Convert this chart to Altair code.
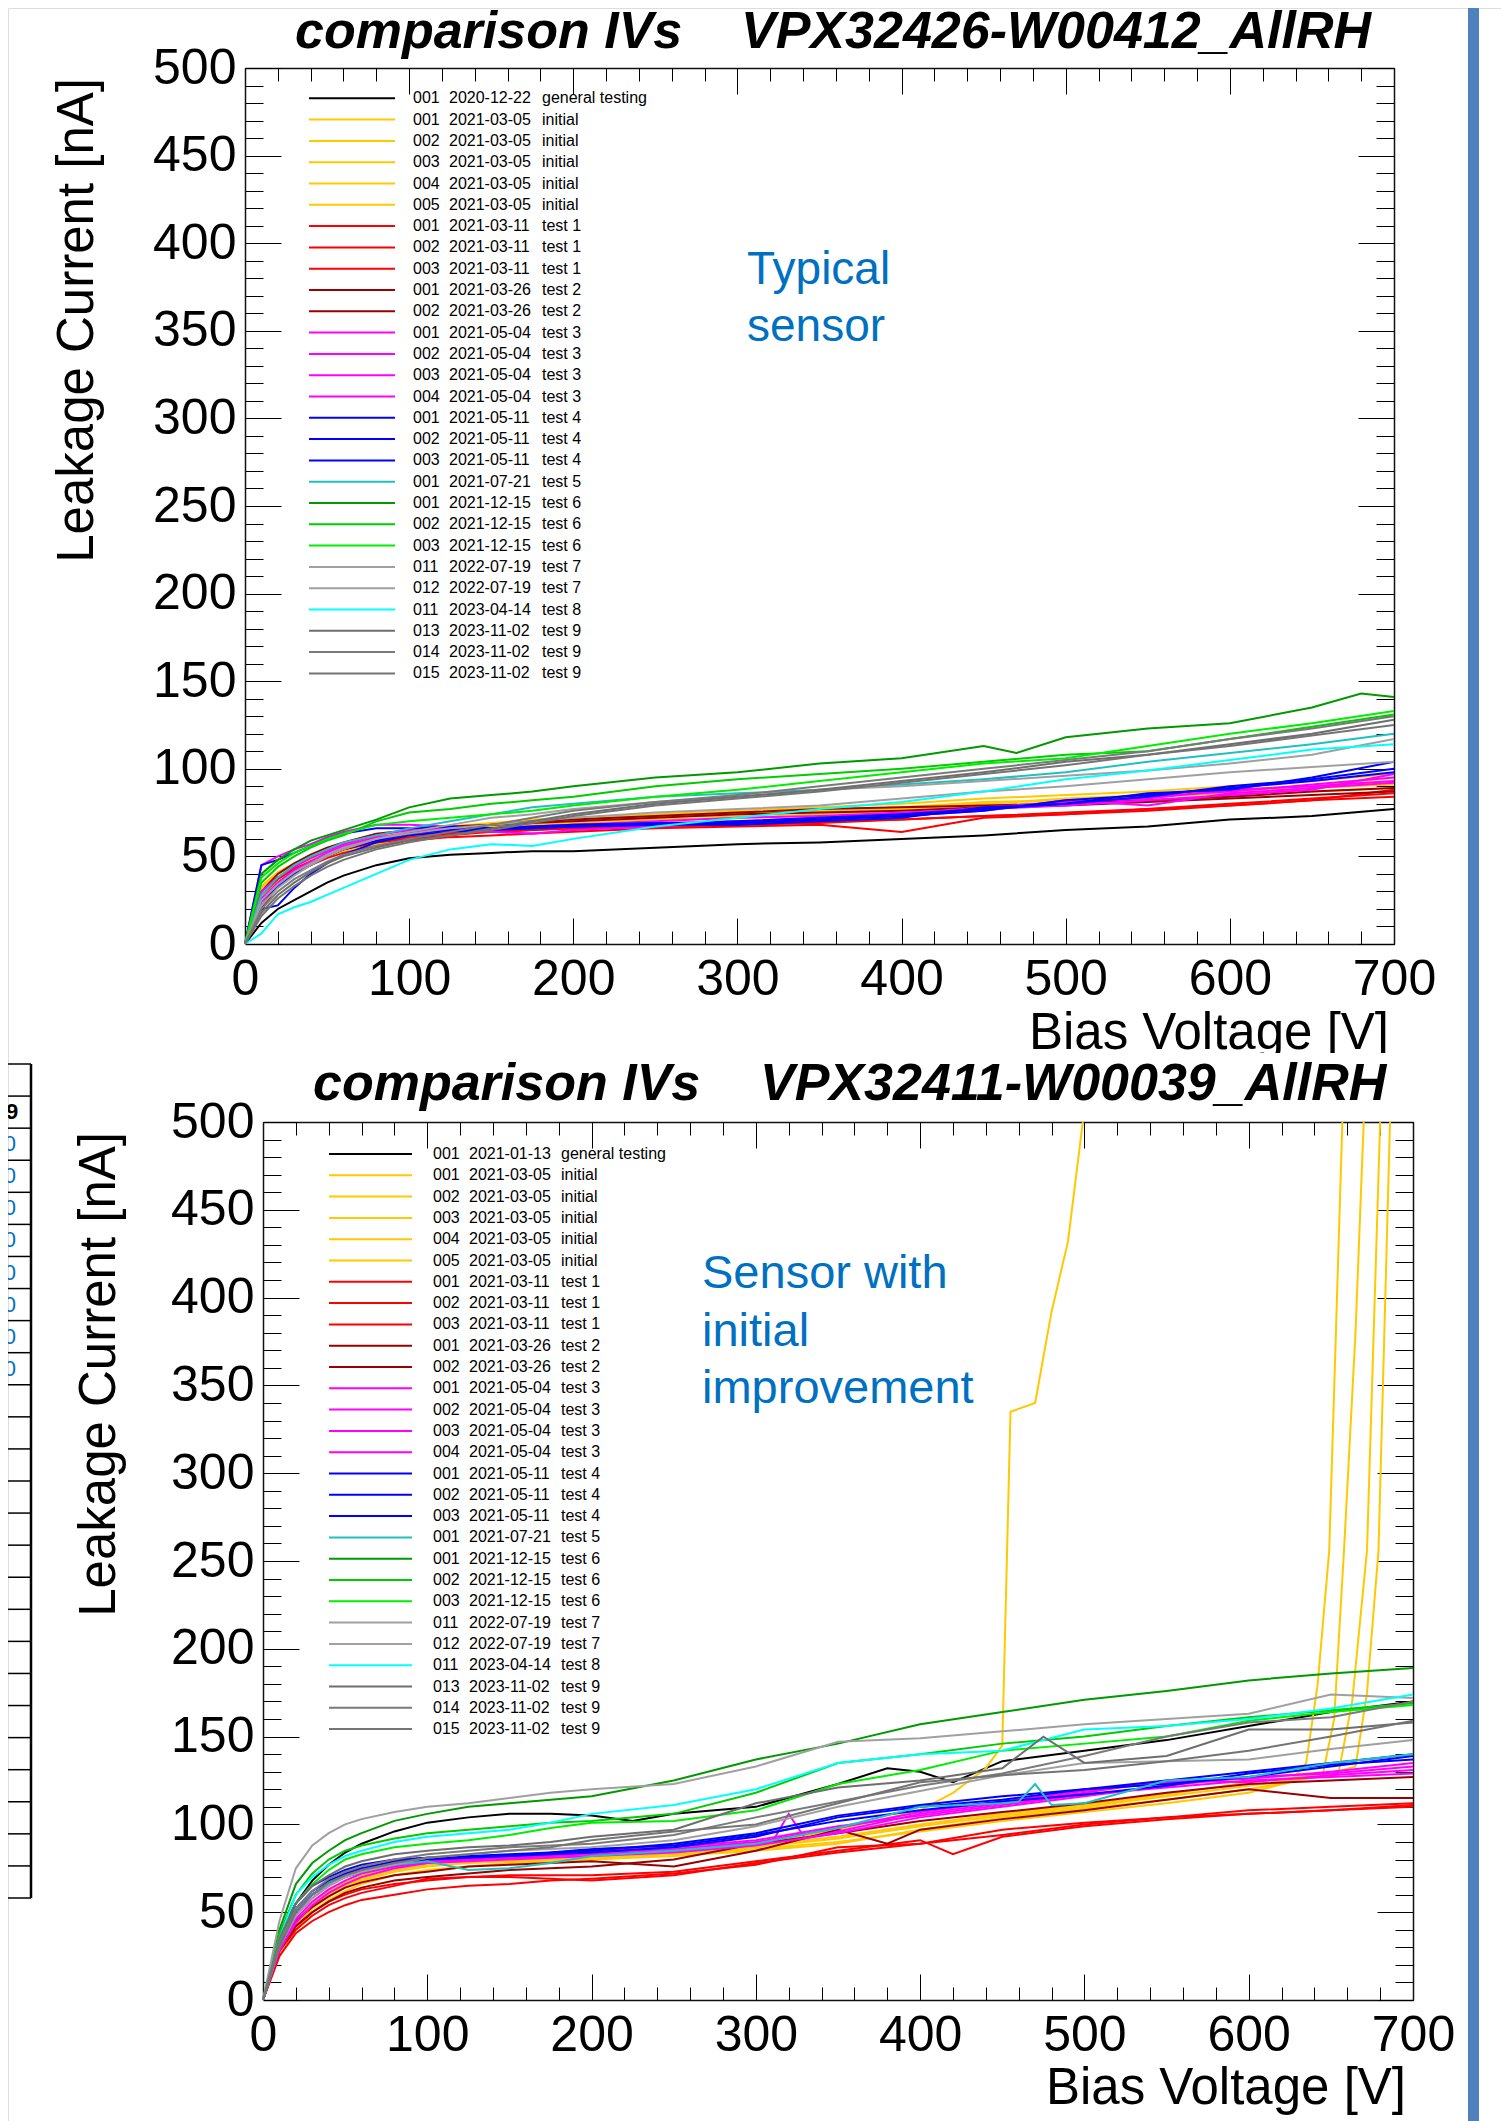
import altair as alt
import pandas as pd

FONT = "Liberation Sans"
W, H = 1493, 2113  # drawing area (page minus 8px margin)

# ---------------- data ----------------
V = [0, 10, 20, 30, 40, 50, 60, 80, 100, 125, 150, 175, 200, 250, 300, 350, 400, 450, 500, 550, 600, 650, 700]

RUN = ["001", "001", "002", "003", "004", "005", "001", "002", "003", "001", "002", "001", "002", "003",
       "004", "001", "002", "003", "001", "001", "002", "003", "011", "012", "011", "013", "014", "015"]
DATE_TOP = ["2020-12-22"] + ["2021-03-05"] * 5 + ["2021-03-11"] * 3 + ["2021-03-26"] * 2 + ["2021-05-04"] * 4 + \
    ["2021-05-11"] * 3 + ["2021-07-21"] + ["2021-12-15"] * 3 + ["2022-07-19"] * 2 + ["2023-04-14"] + ["2023-11-02"] * 3
DATE_BOT = ["2021-01-13"] + DATE_TOP[1:]
TEST = ["general testing"] + ["initial"] * 5 + ["test 1"] * 3 + ["test 2"] * 2 + ["test 3"] * 4 + ["test 4"] * 3 + \
    ["test 5"] + ["test 6"] * 3 + ["test 7"] * 2 + ["test 8"] + ["test 9"] * 3
COLORS = ["#000000"] + ["#FFC800"] * 5 + ["#FF0000"] * 3 + ["#990000"] * 2 + ["#FF00FF"] * 4 + ["#0000FF"] * 3 + \
    ["#20C0C0"] + ["#009900", "#00CC00", "#00EE00"] + ["#A0A0A0", "#A0A0A0"] + ["#00FFFF"] + ["#6E6E6E", "#7A7A7A", "#747474"]

# top panel (VPX32426-W00412), currents [nA]
T00 = [0, 12, 20, 25, 30, 35, 39, 45, 49, 51, 52, 53, 53, 55, 57, 58, 60, 62, 65, 67, 71, 73, 77]
T01 = [0, 32, 40, 45, 49, 53, 56, 60, 63, 66, 68, 70, 71, 73, 75, 76, 78, 80, 83, 85, 88, 90, 93]
T02 = [0, 28, 37, 43, 47, 51, 54, 58, 61, 64, 67, 69, 70, 72, 74, 75, 77, 79, 81, 84, 86, 89, 91]
T03 = [0, 30, 38, 44, 48, 52, 55, 59, 62, 65, 67, 69, 71, 73, 73, 76, 78, 81, 82, 85, 87, 90, 95]
T04 = [0, 26, 35, 41, 46, 50, 53, 57, 60, 63, 66, 68, 69, 71, 72, 74, 76, 78, 80, 82, 85, 87, 89]
T05 = [0, 33, 41, 46, 50, 54, 57, 61, 64, 67, 69, 71, 72, 74, 76, 78, 80, 83, 85, 87, 90, 93, 97]
T06 = [0, 25, 35, 42, 47, 51, 54, 58, 61, 63, 64, 65, 66, 67, 68, 70, 71, 73, 75, 77, 80, 83, 86]
T07 = [0, 22, 33, 40, 45, 49, 52, 56, 59, 61, 62, 63, 64, 66, 67, 68, 64, 72, 74, 76, 79, 82, 84]
T08 = [0, 28, 37, 43, 47, 51, 54, 58, 60, 62, 64, 65, 66, 67, 68, 69, 71, 73, 74, 77, 79, 82, 88]
T09 = [0, 30, 40, 46, 51, 55, 58, 63, 65, 67, 68, 70, 71, 73, 75, 77, 78, 79, 80, 82, 84, 87, 89]
T10 = [0, 20, 33, 40, 46, 50, 54, 59, 63, 66, 68, 69, 70, 72, 74, 75, 76, 78, 79, 81, 83, 85, 87]
T11 = [0, 45, 50, 54, 57, 61, 64, 68, 68, 67, 66, 67, 68, 69, 70, 72, 74, 77, 80, 84, 87, 91, 95]
T12 = [0, 30, 38, 44, 49, 53, 57, 62, 65, 66, 65, 66, 67, 68, 70, 71, 73, 76, 82, 79, 86, 89, 92]
T13 = [0, 26, 35, 42, 47, 52, 56, 61, 63, 65, 64, 63, 65, 67, 69, 71, 74, 78, 81, 83, 88, 90, 93]
T14 = [0, 24, 34, 41, 46, 50, 55, 60, 64, 66, 66, 67, 68, 70, 72, 73, 75, 77, 79, 82, 85, 88, 97]
T15 = [0, 45, 48, 52, 56, 60, 63, 66, 66, 67, 66, 67, 68, 69, 69, 71, 73, 76, 82, 85, 89, 93, 98]
T16 = [0, 20, 22, 32, 40, 46, 51, 58, 62, 64, 65, 66, 67, 68, 68, 70, 72, 78, 80, 86, 88, 95, 104]
T17 = [0, 25, 33, 40, 45, 50, 54, 59, 63, 65, 66, 66, 67, 68, 70, 72, 74, 77, 80, 84, 90, 94, 100]
T18 = [0, 28, 38, 45, 50, 54, 58, 62, 66, 70, 74, 78, 80, 84, 86, 88, 91, 94, 98, 104, 109, 114, 120]
T19_V = [0, 10, 20, 30, 40, 50, 60, 80, 100, 125, 150, 175, 200, 250, 300, 350, 400, 450, 470, 500, 550, 600, 650, 680, 700]
T19 = [0, 40, 48, 54, 59, 62, 65, 71, 78, 83, 85, 87, 90, 95, 98, 103, 106, 113, 109, 118, 123, 126, 135, 143, 141]
T20 = [0, 35, 44, 50, 55, 59, 62, 70, 75, 77, 80, 82, 84, 90, 94, 97, 100, 104, 108, 110, 117, 124, 131]
T21 = [0, 38, 46, 52, 56, 60, 63, 68, 70, 72, 74, 76, 79, 84, 88, 93, 98, 103, 106, 113, 120, 126, 133]
T22 = [0, 22, 32, 39, 45, 50, 54, 60, 64, 68, 72, 74, 77, 81, 84, 88, 90, 93, 96, 99, 103, 108, 117]
T23 = [0, 25, 34, 41, 46, 51, 55, 60, 63, 66, 68, 70, 72, 75, 77, 79, 83, 87, 90, 94, 98, 101, 104]
T24 = [0, 6, 17, 21, 24, 28, 32, 40, 48, 54, 57, 56, 60, 67, 72, 77, 81, 87, 94, 99, 105, 111, 114]
T25 = [0, 18, 28, 35, 41, 46, 50, 55, 59, 62, 66, 70, 74, 80, 84, 88, 93, 98, 104, 108, 114, 120, 128]
T26 = [0, 20, 30, 37, 42, 47, 51, 56, 60, 64, 68, 72, 76, 81, 85, 90, 95, 100, 105, 110, 117, 123, 130]
T27 = [0, 16, 26, 33, 39, 44, 48, 54, 58, 62, 65, 69, 73, 79, 83, 87, 92, 97, 102, 108, 113, 119, 125]

# bottom panel (VPX32411-W00039)
B00_V = [0, 10, 20, 30, 40, 50, 60, 80, 100, 125, 150, 175, 200, 225, 250, 300, 350, 380, 400, 420, 450, 500, 550, 600, 650, 700]
B00 = [0, 35, 55, 68, 77, 84, 89, 96, 101, 104, 106, 106, 105, 102, 106, 110, 123, 132, 130, 124, 136, 142, 148, 156, 164, 170]
B01_V = [0, 10, 20, 30, 40, 50, 60, 80, 100, 125, 150, 175, 200, 250, 300, 350, 400, 420, 440, 450, 455, 470, 480, 490, 499]
B01 = [0, 30, 45, 55, 62, 67, 71, 76, 79, 80, 81, 82, 83, 85, 88, 97, 108, 118, 132, 145, 335, 340, 392, 432, 500]
B02_V = [0, 10, 20, 30, 40, 50, 60, 80, 100, 125, 150, 175, 200, 250, 300, 350, 400, 450, 500, 550, 600, 625, 635, 642, 649, 657]
B02 = [0, 28, 42, 52, 59, 64, 68, 73, 76, 78, 79, 80, 81, 83, 86, 90, 96, 102, 107, 112, 118, 124, 135, 180, 256, 500]
B03_V = [0, 10, 20, 30, 40, 50, 60, 80, 100, 125, 150, 175, 200, 250, 300, 350, 400, 450, 500, 550, 600, 630, 645, 652, 658, 665, 670]
B03 = [0, 25, 40, 50, 57, 62, 66, 71, 74, 76, 78, 79, 80, 82, 85, 89, 97, 104, 109, 114, 120, 125, 128, 160, 256, 380, 500]
B04_V = [0, 10, 20, 30, 40, 50, 60, 80, 100, 125, 150, 175, 200, 250, 300, 350, 400, 450, 500, 550, 600, 650, 655, 663, 672, 680]
B04 = [0, 30, 45, 55, 61, 66, 70, 75, 78, 80, 81, 82, 83, 84, 87, 92, 99, 105, 110, 116, 122, 128, 131, 170, 256, 500]
B05_V = [0, 10, 20, 30, 40, 50, 60, 80, 100, 125, 150, 175, 200, 250, 300, 350, 400, 450, 500, 550, 600, 650, 665, 672, 679, 686]
B05 = [0, 27, 43, 53, 60, 65, 69, 74, 77, 79, 80, 81, 82, 84, 88, 93, 100, 106, 111, 117, 124, 129, 133, 175, 256, 500]
B06 = [0, 25, 38, 45, 50, 54, 57, 60, 63, 65, 66, 68, 69, 72, 77, 87, 89, 97, 101, 104, 106, 108, 111]
B07_V = [0, 10, 20, 30, 40, 50, 60, 80, 100, 125, 150, 175, 200, 250, 300, 350, 400, 420, 450, 500, 550, 600, 650, 700]
B07 = [0, 30, 42, 50, 56, 60, 63, 66, 68, 70, 71, 71, 71, 73, 79, 85, 91, 83, 93, 99, 103, 106, 108, 110]
B08 = [0, 28, 40, 48, 54, 58, 61, 65, 69, 70, 70, 69, 68, 71, 78, 84, 89, 94, 100, 104, 108, 110, 112]
B09_V = [0, 10, 20, 30, 40, 50, 60, 80, 100, 125, 150, 175, 200, 250, 300, 350, 380, 400, 450, 500, 550, 600, 650, 700]
B09 = [0, 32, 45, 53, 59, 64, 67, 71, 73, 76, 77, 78, 79, 76, 85, 97, 89, 97, 103, 108, 114, 120, 115, 115]
B10 = [0, 28, 42, 50, 56, 61, 64, 68, 70, 72, 74, 75, 76, 80, 89, 95, 102, 107, 112, 118, 123, 125, 127]
B11_V = [0, 10, 20, 30, 40, 50, 60, 80, 100, 125, 150, 175, 200, 250, 300, 310, 320, 330, 350, 400, 450, 500, 550, 600, 650, 700]
B11 = [0, 35, 50, 60, 67, 72, 75, 78, 80, 81, 81, 82, 83, 85, 89, 90, 106, 92, 96, 106, 112, 118, 125, 124, 128, 131]
B12 = [0, 30, 46, 56, 63, 68, 72, 76, 78, 79, 80, 81, 82, 84, 88, 95, 104, 110, 116, 122, 127, 129, 133]
B13 = [0, 32, 48, 58, 65, 70, 73, 77, 79, 80, 81, 82, 84, 86, 90, 98, 107, 113, 119, 124, 126, 130, 135]
B14 = [0, 28, 44, 54, 61, 66, 70, 75, 78, 80, 81, 83, 85, 87, 91, 99, 105, 111, 117, 121, 125, 127, 129]
B15 = [0, 38, 55, 65, 70, 74, 77, 80, 81, 82, 82, 83, 84, 87, 93, 104, 110, 114, 120, 123, 127, 133, 139]
B16 = [0, 35, 52, 62, 68, 72, 75, 79, 81, 82, 83, 84, 86, 88, 94, 102, 108, 113, 117, 122, 129, 134, 137]
B17 = [0, 32, 50, 60, 66, 70, 73, 77, 80, 81, 82, 84, 85, 89, 95, 105, 111, 116, 120, 125, 130, 135, 140]
B18_V = [0, 10, 20, 30, 40, 50, 60, 80, 100, 125, 150, 175, 200, 250, 300, 350, 400, 450, 460, 470, 480, 500, 550, 600, 650, 700]
B18 = [0, 33, 50, 60, 66, 70, 73, 77, 79, 74, 75, 78, 82, 85, 89, 98, 110, 112, 113, 123, 111, 112, 125, 127, 135, 140]
B19 = [0, 40, 66, 78, 85, 91, 95, 102, 106, 110, 112, 114, 116, 125, 137, 146, 157, 164, 171, 176, 182, 186, 189]
B20 = [0, 38, 60, 72, 80, 85, 88, 92, 95, 97, 99, 101, 102, 106, 118, 135, 140, 146, 150, 156, 161, 165, 169]
B21 = [0, 35, 55, 66, 74, 80, 83, 87, 89, 91, 94, 98, 101, 102, 108, 123, 131, 142, 146, 150, 159, 164, 168]
B22 = [0, 45, 75, 88, 95, 100, 103, 107, 110, 112, 115, 118, 120, 123, 133, 147, 149, 153, 157, 160, 163, 174, 172]
B23 = [0, 30, 48, 58, 65, 70, 73, 77, 81, 83, 85, 86, 87, 91, 99, 110, 119, 128, 135, 136, 137, 143, 148]
B24 = [0, 35, 60, 70, 77, 82, 85, 90, 93, 95, 97, 101, 106, 111, 120, 135, 140, 142, 154, 156, 160, 166, 174]
B25_V = [0, 10, 20, 30, 40, 50, 60, 80, 100, 125, 150, 175, 200, 250, 300, 350, 400, 450, 475, 500, 550, 600, 650, 700]
B25 = [0, 35, 55, 65, 71, 76, 79, 83, 85, 87, 88, 90, 93, 97, 112, 121, 125, 132, 150, 135, 139, 154, 154, 158]
B26 = [0, 33, 52, 62, 69, 73, 76, 80, 83, 85, 87, 88, 89, 94, 104, 113, 122, 129, 139, 150, 158, 161, 170]
B27 = [0, 30, 50, 60, 67, 71, 74, 78, 81, 83, 85, 87, 91, 96, 100, 112, 124, 128, 131, 136, 142, 150, 159]

TOP_I = [T00, T01, T02, T03, T04, T05, T06, T07, T08, T09, T10, T11, T12, T13,
         T14, T15, T16, T17, T18, T19, T20, T21, T22, T23, T24, T25, T26, T27]
TOP_V = [V] * 19 + [T19_V] + [V] * 8
BOT_I = [B00, B01, B02, B03, B04, B05, B06, B07, B08, B09, B10, B11, B12, B13,
         B14, B15, B16, B17, B18, B19, B20, B21, B22, B23, B24, B25, B26, B27]
BOT_V = [B00_V, B01_V, B02_V, B03_V, B04_V, B05_V, V, B07_V, V, B09_V, V, B11_V, V, V,
         V, V, V, V, B18_V, V, V, V, V, V, V, B25_V, V, V]

X_MAJOR = list(range(0, 701, 100))
X_MINOR = list(range(0, 701, 20))
Y_MAJOR = list(range(0, 501, 50))
Y_MINOR = list(range(0, 501, 10))

TABLE_ROWS = list(range(27))


def curves_df(currents, volts):
    rows = []
    for sid, (vs, cs) in enumerate(zip(volts, currents)):
        for v, c in zip(vs, cs):
            rows.append({"sid": sid, "V": v, "I": c, "color": COLORS[sid]})
    return pd.DataFrame(rows)


def one(text=""):
    return pd.DataFrame({"t": [text]})


def text_layer(text, x, y, size, color="black", weight="normal", style="normal",
               align="left", baseline="alphabetic", angle=None, line_height=None):
    kw = dict(font=FONT, fontSize=size, color=color, fontWeight=weight, fontStyle=style,
              align=align, baseline=baseline)
    if angle is not None:
        kw["angle"] = angle
    if line_height is not None:
        kw["lineHeight"] = line_height
    enc = dict(x=alt.value(x), y=alt.value(y))
    if isinstance(text, list):
        return alt.Chart(one()).mark_text(**kw).encode(text=alt.value(text), **enc)
    return alt.Chart(one(text)).mark_text(**kw).encode(text="t:N", **enc)


def panel(df, dates, fr, leg, titles, note):
    x0, x1, y0, y1 = fr
    xs = alt.Scale(domain=[0, 700], range=[x0, x1], nice=False, zero=False)
    ys = alt.Scale(domain=[0, 500], range=[y1, y0], nice=False, zero=False)
    lab = dict(labelFont=FONT, labelFontSize=50, labelColor="black", labelFlush=False,
               labelOverlap=False, grid=False, title=None, ticks=False,
               domainColor="#111111", domainWidth=1.5)
    lines = alt.Chart(df).mark_line(strokeWidth=2).encode(
        x=alt.X("V:Q", scale=xs, axis=alt.Axis(orient="bottom", offset=y1 - H, values=X_MAJOR,
                                                labelPadding=10, **lab)),
        y=alt.Y("I:Q", scale=ys, axis=alt.Axis(orient="left", offset=-x0, values=Y_MAJOR,
                                                labelPadding=9, **lab)),
        color=alt.Color("color:N", scale=None),
        detail="sid:N",
    )
    frame = pd.DataFrame({"V": [0, 700], "I": [0, 500]})

    def ticks(xo, xoff, xv, xsz, yo, yoff, yv, ysz, dom):
        common = dict(labels=False, grid=False, title=None, domain=dom, domainColor="#111111",
                      domainWidth=1.5, tickColor="black", tickWidth=1)
        return alt.Chart(frame).mark_point(opacity=0).encode(
            x=alt.X("V:Q", scale=xs, axis=alt.Axis(orient=xo, offset=xoff, values=xv, tickSize=xsz, **common)),
            y=alt.Y("I:Q", scale=ys, axis=alt.Axis(orient=yo, offset=yoff, values=yv, tickSize=ysz, **common)),
        )

    layers = [
        ticks("top", -y1, X_MAJOR, 26, "right", x0 - W, Y_MAJOR, 36, False),
        ticks("top", -y1, X_MINOR, 13, "right", x0 - W, Y_MINOR, 18, False),
        ticks("bottom", y0 - H, X_MAJOR, 26, "left", -x1, Y_MAJOR, 36, True),
        ticks("bottom", y0 - H, X_MINOR, 13, "left", -x1, Y_MINOR, 18, False),
        lines,
    ]
    # legend (ROOT style) drawn through an entry-index scale
    sx0, sx1, cx1, cx2, cx3, ly0, dy = leg
    ldf = pd.DataFrame({"k": list(range(28)), "run": RUN, "date": dates, "test": TEST, "color": COLORS})
    lys = alt.Scale(domain=[0, 27], range=[ly0, ly0 + 27 * dy], nice=False, zero=False)
    yk = alt.Y("k:Q", scale=lys, axis=None)
    layers.append(alt.Chart(ldf).mark_rule(strokeWidth=2).encode(
        x=alt.value(sx0), x2=alt.value(sx1), y=yk, color=alt.Color("color:N", scale=None)))
    for cx, field in ((cx1, "run"), (cx2, "date"), (cx3, "test")):
        layers.append(alt.Chart(ldf).mark_text(font=FONT, fontSize=16, color="black", align="left",
                                               baseline="middle").encode(
            x=alt.value(cx), y=yk, text=f"{field}:N"))
    # titles
    (t1, t1x, t2, t2x, ty), (ytx, yty), (xtx, xty) = titles
    layers.append(text_layer(t1, t1x, ty, 52, weight="bold", style="italic"))
    layers.append(text_layer(t2, t2x, ty, 52, weight="bold", style="italic"))
    layers.append(text_layer("Leakage Current [nA]", ytx, yty, 51, align="right", angle=270))
    layers.append(text_layer("Bias Voltage [V]", xtx, xty, 51, align="right"))
    nt, nx, ny, nsize, nlh = note
    layers.append(text_layer(nt, nx, ny, nsize, color="#0070C0", line_height=nlh))
    return layers


top_df = curves_df(TOP_I, TOP_V)
bot_df = curves_df(BOT_I, BOT_V)

top_layers = panel(
    top_df, DATE_TOP, (237, 1386, 60, 936),
    (301, 387, 405, 441, 534, 90.3, 21.3),
    (("comparison IVs", 287, "VPX32426-W00412_AllRH", 733, 40), (85, 70), (1381, 1041)),
    (["Typical", "sensor"], 739, 276, 46, 57),
)
bot_layers = panel(
    bot_df, DATE_BOT, (255, 1405, 1114, 1992),
    (321, 404, 425, 461, 553, 1146, 21.3),
    (("comparison IVs", 305, "VPX32411-W00039_AllRH", 752, 1092), (107, 1124), (1398, 2096)),
    (["Sensor with", "initial", "improvement"], 694, 1280, 47, 57.5),
)

# decorations from the slide: cover strip, cropped table at the left, blue bar at the right
cover = alt.Chart(one()).mark_rect(color="white").encode(
    x=alt.value(650), x2=alt.value(1455), y=alt.value(1045), y2=alt.value(1055))
bar = alt.Chart(one()).mark_rect(color="#4F81BD").encode(
    x=alt.value(1460), x2=alt.value(1471), y=alt.value(0), y2=alt.value(H))
rows_df = pd.DataFrame({"k": TABLE_ROWS})
row_scale = alt.Scale(domain=[0, 26], range=[1056, 1890], nice=False, zero=False)
table_rows = alt.Chart(rows_df).mark_rule(color="black", strokeWidth=1.5).encode(
    x=alt.value(0), x2=alt.value(23), y=alt.Y("k:Q", scale=row_scale, axis=None))
table_edge = alt.Chart(one()).mark_rule(color="black", strokeWidth=2.5).encode(
    x=alt.value(23), y=alt.value(1056), y2=alt.value(1890))
nine_df = pd.DataFrame({"k": [1.5], "t": ["9"]})
table_nine = alt.Chart(nine_df).mark_text(font=FONT, fontSize=22, fontWeight="bold", color="black",
                                          align="center", baseline="middle").encode(
    x=alt.value(4), y=alt.Y("k:Q", scale=row_scale, axis=None), text="t:N")
blue_df = pd.DataFrame({"k": [2.5, 3.5, 4.5, 5.5, 6.5, 7.5, 8.5, 9.5], "t": ["000"] * 8})
table_blue = alt.Chart(blue_df).mark_text(font=FONT, fontSize=22, color="#0070C0",
                                          align="right", baseline="middle").encode(
    x=alt.value(8), y=alt.Y("k:Q", scale=row_scale, axis=None), text="t:N")

chart = alt.layer(
    *top_layers, cover, *bot_layers, bar, table_rows, table_edge, table_nine, table_blue
).resolve_scale(
    x="independent", y="independent"
).resolve_axis(
    x="independent", y="independent"
).properties(
    width=W, height=H, padding=0, autosize=alt.AutoSizeParams(type="none")
).configure_view(
    strokeWidth=0
).configure(
    background="white"
)

chart.save("out.html", embed_options={"renderer": "svg", "actions": False})
